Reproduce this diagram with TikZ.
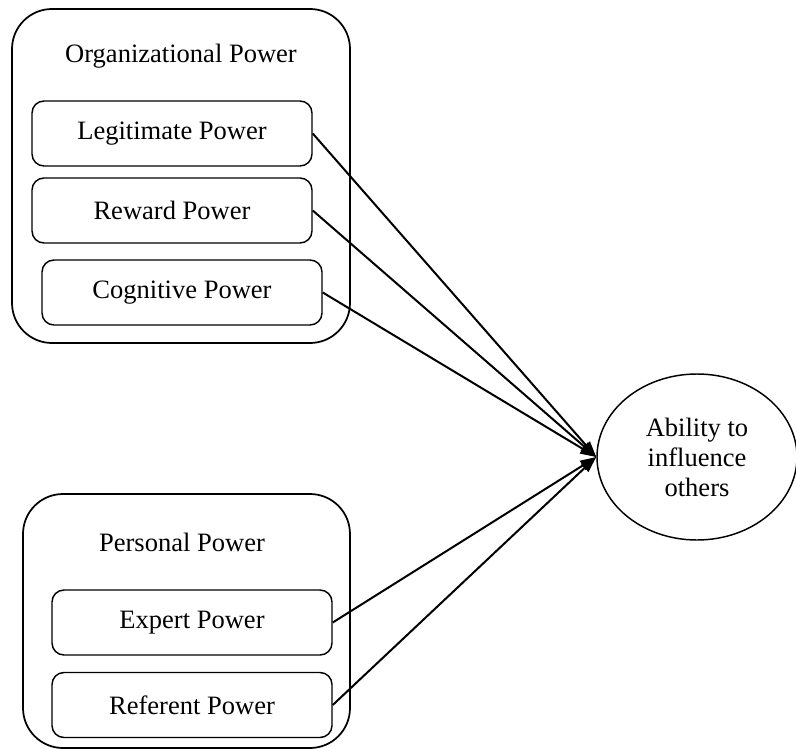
\documentclass[tikz,border=0pt]{standalone}
\usepackage{fontspec}
\setmainfont{Liberation Serif}
\usetikzlibrary{shapes.geometric,arrows.meta}
\begin{document}
\begin{tikzpicture}[x=0.75pt,y=-0.75pt,
  every node/.style={font=\fontsize{19.9}{22.5}\selectfont},
  groupbox/.style={draw,line width=1.3pt,rounded corners=30pt,inner sep=0pt},
  powerbox/.style={draw,line width=1.1pt,rounded corners=9pt,inner sep=0pt,
    minimum width=210pt,minimum height=48.75pt},
  target/.style={draw,ellipse,line width=1.1pt,inner sep=0pt,
    minimum width=150pt,minimum height=124.5pt,align=center},
  link/.style={line width=1.5pt,-{Triangle[length=12pt,width=8pt]}}]
  \useasboundingbox (0,0) rectangle (796,749);

  % organisational group
  \node[groupbox,minimum width=253.5pt,minimum height=250.5pt] (org) at (181,176) {};
  \node (orgt) at (181,56) {Organizational Power};
  \node[powerbox] (legit) at (172,133.5) {Legitimate Power};
  \node[powerbox] (reward) at (172,210.5) {Reward Power};
  \node[powerbox] (cogn) at (182,292.5) {Cognitive Power};

  % personal group
  \node[groupbox,minimum width=245.25pt,minimum height=190.5pt] (pers) at (186.5,621) {};
  \node (perst) at (182,542) {Personal Power};
  \node[powerbox] (expert) at (192,622.5) {Expert Power};
  \node[powerbox] (refer) at (192,705) {Referent Power};

  % outcome
  \node[target] (ability) at (697,457) {Ability to\\influence\\others};

  % influence links
  \foreach \s in {legit,reward,cogn,expert,refer}
    \draw[link] (\s.east) -- (ability.west);
\end{tikzpicture}
\end{document}
